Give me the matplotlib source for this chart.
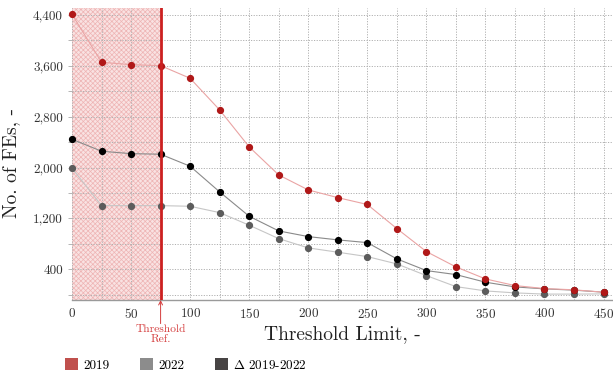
import matplotlib
matplotlib.use("Agg")
import matplotlib.pyplot as plt
from matplotlib.patches import Patch
from matplotlib.ticker import FuncFormatter, MultipleLocator

plt.rcParams['font.family'] = ['cmr10', 'DejaVu Serif']
plt.rcParams['mathtext.fontset'] = 'cm'
plt.rcParams['axes.formatter.use_mathtext'] = True
plt.rcParams['hatch.linewidth'] = 0.5

thresholds = [0, 25, 50, 75, 100, 125, 150, 175, 200, 225, 250, 275, 300, 325, 350, 375, 400, 425, 450]
fes_2019 = [4410, 3656, 3618, 3603, 3404, 2906, 2324, 1883, 1647, 1526, 1418, 1039, 677, 436, 247, 142, 95, 75, 38]
fes_delta = [2445, 2256, 2218, 2209, 2020, 1616, 1233, 1002, 913, 861, 818, 562, 378, 315, 195, 121, 90, 70, 38]
fes_2022 = [1989, 1400, 1400, 1400, 1390, 1290, 1092, 881, 735, 667, 598, 483, 299, 126, 58, 27, 8, 8, 11]
threshold_ref = 75
legend_labels = ['2019', '2022', r'$\Delta$ 2019-2022']

fig = plt.figure(figsize=(6.13, 3.74), dpi=100)
ax = fig.add_axes([72/613, 74/374, (613-72)/613, (300-8)/374])

ymin, ymax = -85, 4510
ax.set_xlim(0, 458)
ax.set_ylim(ymin, ymax)

# hatched region
ax.axvspan(0, threshold_ref, facecolor='#f9e2e2', edgecolor='#eeb4b4', hatch='xxxxxxx', lw=0, zorder=0)

ax.xaxis.set_major_locator(MultipleLocator(50))
ax.xaxis.set_minor_locator(MultipleLocator(25))
ax.yaxis.set_major_locator(MultipleLocator(800, offset=400))
ax.yaxis.set_minor_locator(MultipleLocator(400))
ax.yaxis.set_major_formatter(FuncFormatter(lambda v, p: f"{int(round(v)):,}"))

ax.grid(True, which='both', color='#b0b0b0', linestyle=(0, (1.2, 1.5)), linewidth=0.7, zorder=0.5)
ax.set_axisbelow(True)

for s in ['top', 'right', 'left']:
    ax.spines[s].set_visible(False)
ax.spines['bottom'].set_color('#9a9a9a')
ax.spines['bottom'].set_linewidth(1.0)

ax.tick_params(axis='both', which='both', colors='#aaaaaa', labelcolor='#333333', labelsize=9.5, length=3, width=0.6)
ax.tick_params(axis='x', which='both', length=0, pad=5)

ax.plot(thresholds, fes_2022, color='#c6c6c6', lw=0.8, marker='o', ms=4.2, mfc='#5c5c5c', mec='#5c5c5c', zorder=3, clip_on=False)
ax.plot(thresholds, fes_delta, color='#8a8a8a', lw=0.8, marker='o', ms=4.2, mfc='#000000', mec='#000000', zorder=4, clip_on=False)
ax.plot(thresholds, fes_2019, color='#eaa4a4', lw=0.8, marker='o', ms=4.2, mfc='#b01818', mec='#b01818', zorder=5, clip_on=False)

ax.axvline(threshold_ref, color='#cc2020', lw=2, zorder=6)

ax.set_xlabel('Threshold Limit, -', fontsize=14, color='#222222', labelpad=3)
ax.set_ylabel('No. of FEs, -', fontsize=14, color='#222222', labelpad=6)
ax.yaxis.set_label_coords(-0.095, 0.47)

ax.annotate('Threshold\nRef.', xy=(threshold_ref, ymin), xytext=(0, -17.5), textcoords='offset points',
            fontsize=8.3, color='#d43c3c', ha='center', va='top', linespacing=1.15,
            annotation_clip=False)
ax.annotate('', xy=(threshold_ref, ymin), xytext=(0, -17), textcoords='offset points',
            arrowprops=dict(arrowstyle='->', color='#d43c3c', lw=0.7, shrinkA=0, shrinkB=0,
                            mutation_scale=7),
            annotation_clip=False)

handles = [Patch(facecolor='#c0504d'), Patch(facecolor='#8c8c8c'), Patch(facecolor='#474444')]
fig.legend(handles, legend_labels, loc='center left', bbox_to_anchor=(65/613, 9/374), ncol=3,
           frameon=False, fontsize=9.5, handlelength=1.0, handleheight=1.0, columnspacing=2.3,
           handletextpad=0.4, borderpad=0, borderaxespad=0)

fig.savefig('out.png', dpi=100)
